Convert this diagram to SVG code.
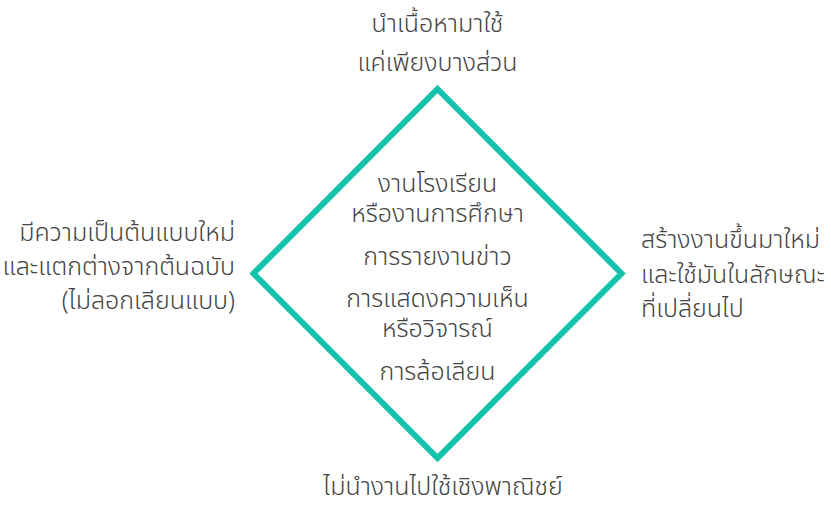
<svg xmlns="http://www.w3.org/2000/svg" width="831" height="505" viewBox="0 0 831 505">
<style>
text{font-family:"Noto Sans Thai","Noto Sans","Noto Sans CJK SC",sans-serif;font-size:25px;font-weight:300;fill:#444}
.c{text-anchor:middle}
.r{text-anchor:end}
.l{text-anchor:start}
</style>
<rect width="831" height="505" fill="#fff"/>
<g id="connectors">
<polygon id="diamond" points="437.5,89 621.5,273.5 437.5,458 253.5,273.5" fill="none" stroke="#15c2ab" stroke-width="6"/>
</g>
<g id="top">
<text class="c" x="437.5" y="32">นำเนื้อหามาใช้</text>
<text class="c" x="437.5" y="71">แค่เพียงบางส่วน</text>
</g>
<g id="left">
<text class="r" x="235" y="241">มีความเป็นต้นแบบใหม่</text>
<text class="r" x="235" y="275">และแตกต่างจากต้นฉบับ</text>
<text class="r" x="235" y="309">(ไม่ลอกเลียนแบบ)</text>
</g>
<g id="right">
<text class="l" x="641" y="248">สร้างงานขึ้นมาใหม่</text>
<text class="l" x="641" y="283">และใช้มันในลักษณะ</text>
<text class="l" x="641" y="317">ที่เปลี่ยนไป</text>
</g>
<g id="bottom">
<text class="c" x="443" y="495">ไม่นำงานไปใช้เชิงพาณิชย์</text>
</g>
<g id="center">
<text class="c" x="437.5" y="192">งานโรงเรียน</text>
<text class="c" x="437.5" y="222">หรืองานการศึกษา</text>
<text class="c" x="437.5" y="265">การรายงานข่าว</text>
<text class="c" x="437.5" y="307">การแสดงความเห็น</text>
<text class="c" x="437.5" y="337">หรือวิจารณ์</text>
<text class="c" x="437.5" y="380">การล้อเลียน</text>
</g>
</svg>
